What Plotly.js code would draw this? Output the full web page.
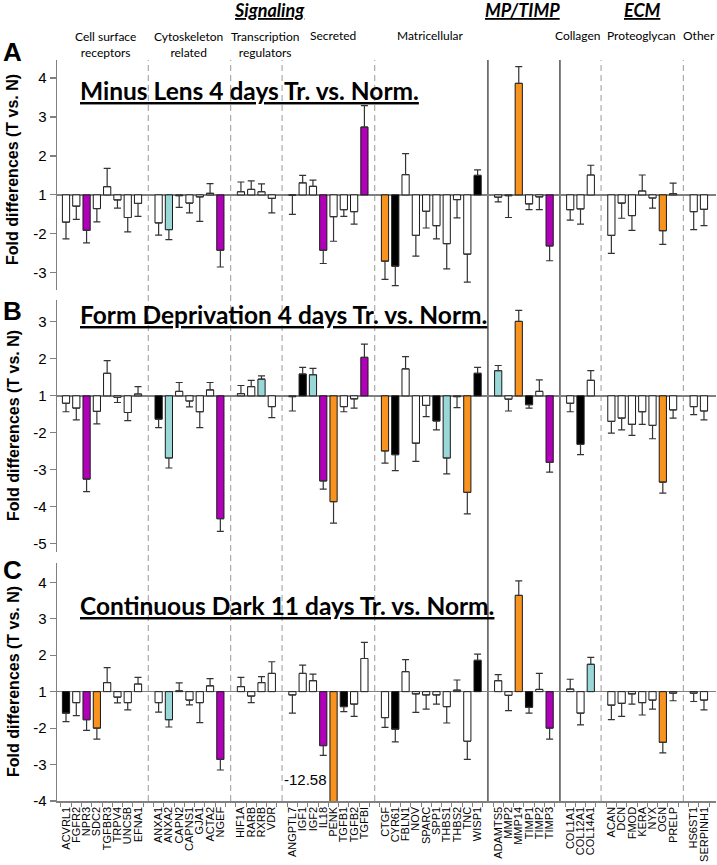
<!DOCTYPE html>
<html><head><meta charset="utf-8">
<script src="https://cdn.plot.ly/plotly-3.0.1.min.js"></script>
<style>html,body{margin:0;padding:0;background:#fff}#chart{width:717px;height:865px}</style>
</head><body><div id="chart"></div>
<script>
// ---------- data ----------
const genes = ['ACVRL1','FGFR2','NPR3','SDC2','TGFBR3','TRPV4','UNC5B','EFNA1',
 'ANXA1','ANXA2','CAPN2','CAPNS1','GJA1','ACTA2','NGEF',
 'HIF1A','RARB','RXRB','VDR',
 'ANGPTL7','IGF1','IGF2','IL18','PENK','TGFB1','TGFB2','TGFBI',
 'CTGF','CYR61','FBLN1','NOV','SPARC','SPP1','THBS1','THBS2','TNC','WISP1',
 'ADAMTS5','MMP2','MMP14','TIMP1','TIMP2','TIMP3',
 'COL1A1','COL12A1','COL14A1',
 'ACAN','DCN','FMOD','KERA','NYX','OGN','PRELP',
 'HS6ST1','SERPINH1'];
const groupSizes = [8,7,4,8,10,6,3,7,2];
const sepStyles = ['dash','dash','dash','dash','solid','solid','dash','dash'];

// Panel A: Minus Lens 4 days (fold differences, SE)
const foldA = [-1.70,-1.29,-1.91,-1.35,1.21,-1.13,-1.58,-1.22,
 -1.72,-1.89,-1.02,-1.21,-1.05,1.04,-2.42,
 1.08,1.14,1.08,-1.09,
 -1.01,1.31,1.22,-2.42,-1.56,-1.38,-1.43,2.74,
 -2.70,-2.83,1.52,-2.04,-1.42,-1.79,-2.25,-1.12,-2.52,1.50,
 -1.06,-1.02,3.86,-1.23,-1.05,-2.31,
 -1.38,-1.36,1.51,
 -2.04,-1.21,-1.53,1.10,-1.08,-1.92,1.03,
 -1.43,-1.37];
const errA = [0.43,0.34,0.32,0.34,0.47,0.21,0.37,0.33,
 0.31,0.26,0.30,0.25,0.63,0.25,0.43,
 0.25,0.22,0.20,0.37,
 0.49,0.19,0.16,0.34,0.63,0.17,0.32,0.55,
 0.47,0.50,0.54,0.53,0.43,0.34,0.65,0.47,0.72,0.14,
 0.12,0.56,0.43,0.15,0.33,0.38,
 0.27,0.39,0.25,
 0.46,0.39,0.38,0.41,0.26,0.35,0.27,
 0.46,0.42];
const colA = 'wwmwwwww'+'wcwwwwm'+'wwww'+'wwwmwwwm'+'okwwwwwwwk'+'wwowwm'+'www'+'wwwwwow'+'ww';

// Panel B: Form Deprivation 4 days
const foldB = [-1.20,-1.33,-3.25,-1.42,1.61,-1.04,-1.45,1.05,
 -1.63,-2.68,1.12,-1.14,-1.43,1.16,-4.32,
 1.06,1.25,1.45,-1.29,
 -1.02,1.59,1.57,-3.30,-3.86,-1.29,-1.08,2.04,
 -2.49,-2.59,1.73,-2.28,-1.26,-1.68,-2.68,-1.02,-3.61,1.61,
 1.68,-1.09,3.01,-1.24,1.12,-2.80,
 -1.20,-2.31,1.42,
 -1.69,-1.60,-1.77,-1.43,-1.80,-3.33,-1.38,
 -1.29,-1.41];
const errB = [0.23,0.32,0.34,0.34,0.34,0.14,0.22,0.20,
 0.23,0.27,0.24,0.16,0.43,0.20,0.34,
 0.22,0.17,0.09,0.30,
 0.39,0.18,0.17,0.22,0.58,0.14,0.25,0.36,
 0.33,0.43,0.33,0.49,0.30,0.24,0.43,0.30,0.58,0.16,
 0.14,0.32,0.30,0.09,0.31,0.26,
 0.23,0.28,0.26,
 0.32,0.32,0.30,0.34,0.36,0.30,0.22,
 0.22,0.24];
const colB = 'wwmwwwww'+'kcwwwwm'+'wwcw'+'wkcmowwm'+'okwwwkcwok'+'cwokwm'+'wkw'+'wwwwwow'+'ww';

// Panel C: Continuous Dark 11 days
const foldC = [-1.59,-1.30,-1.77,-2.00,1.25,-1.15,-1.30,1.21,
 -1.30,-1.77,1.02,-1.23,-1.30,1.16,-2.86,
 1.14,-1.12,1.25,1.50,
 -1.09,1.50,1.30,-2.48,-12.58,-1.41,-1.34,1.91,
 -1.71,-2.03,1.55,-1.06,-1.09,-1.09,-1.41,1.04,-2.36,1.86,
 1.30,-1.10,3.64,-1.43,1.06,-2.00,
 1.07,-1.59,1.75,
 -1.37,-1.32,-1.06,-1.30,-1.23,-2.39,-1.04,
 -1.04,-1.23];
const errC = [0.23,0.36,0.29,0.30,0.41,0.16,0.20,0.18,
 0.26,0.20,0.22,0.13,0.55,0.20,0.29,
 0.25,0.18,0.16,0.32,
 0.50,0.23,0.18,0.27,0.00,0.14,0.34,0.44,
 0.27,0.35,0.33,0.51,0.39,0.25,0.45,0.28,0.50,0.17,
 0.17,0.42,0.40,0.16,0.44,0.30,
 0.27,0.32,0.19,
 0.40,0.36,0.28,0.34,0.25,0.29,0.21,
 0.23,0.27];
const colC = 'kwmowwww'+'wcwwwwm'+'wwww'+'wwwmokww'+'wkwwwwwwwk'+'wwokwm'+'wwc'+'wwwwwow'+'ww';

const panelTitles = ['Minus Lens 4 days Tr. vs. Norm.','Form Deprivation 4 days Tr. vs. Norm.','Continuous Dark 11 days Tr. vs. Norm.'];
const panelLetters = ['A','B','C'];
const yTicksA = [-3,-2,1,2,3,4];
const yTicksB = [-5,-4,-3,-2,1,2,3];
const yTicksC = [-4,-3,-2,1,2,3,4];
const penkLabel = '-12.58';

// ---------- helpers ----------
const palette = {w:'#ffffff', m:'#b000b8', c:'#9ad8d8', o:'#f7931e', k:'#000000'};
const toPlot = f => f >= 0 ? f - 1 : f + 1;      // fold difference -> bar position (1 and -1 share baseline)
const slots = []; const sepSlots = [];
(function(){ let s = 0; groupSizes.forEach((n,g)=>{ for(let i=0;i<n;i++) slots.push(s++); if(g<groupSizes.length-1){ sepSlots.push(s); s++; } }); })();
const nSlots = slots[slots.length-1] + 1;

const L = 57, R = 1, T = 60, B = 64, W = 717, H = 865;
const PW = W - L - R, PH = H - T - B;
const px = x => (x - L) / PW;
const py = y => (H - B - y) / PH;

function barTrace(fold, err, col, yaxis){
  const v = fold.map(toPlot);
  return {
    type:'bar', x: slots, y: v, yaxis: yaxis, xaxis:'x',
    marker:{color: col.split('').map(c=>palette[c]), line:{color:'#1a1a1a', width:1}},
    error_y:{type:'data', symmetric:false,
      array: v.map((val,i)=> val >= 0 ? err[i] : 0),
      arrayminus: v.map((val,i)=> val < 0 ? err[i] : 0),
      color:'#333333', thickness:1.2, width:3.5},
    hoverinfo:'skip', showlegend:false
  };
}

const traces = [
  barTrace(foldA, errA, colA, 'y'),
  barTrace(foldB, errB, colB, 'y2'),
  barTrace(foldC, errC, colC, 'y3'),
  {type:'scatter', x:[], y:[], xaxis:'x2', yaxis:'y3', showlegend:false, hoverinfo:'skip'}
];

const xRange = [-0.875, -0.875 + PW/10.29];
function yAxis(domain, range, ticks){
  return {domain: domain, range: range, tickvals: ticks.map(toPlot), ticktext: ticks.map(String),
    showline:true, linecolor:'#808080', linewidth:1.5, ticks:'outside', ticklen:6, tickcolor:'#808080', tickwidth:1.2,
    showgrid:false, zeroline:true, zerolinecolor:'#808080', zerolinewidth:1.5,
    tickfont:{family:'Liberation Sans, Arial', size:15, color:'#000'}, fixedrange:true};
}

const yA = [py(290), 1], yB = [py(552), py(300)], yC = [0, py(563)];
const layout = {
  width: W, height: H, margin:{l:L, r:R, t:T, b:B}, paper_bgcolor:'#fff', plot_bgcolor:'rgba(0,0,0,0)',
  bargap: 0.3, showlegend:false,
  xaxis:{anchor:'y3', range:xRange, tickvals: slots, ticktext: genes, tickangle:-90, ticks:'',
    showline:true, linecolor:'#808080', linewidth:1.5, showgrid:false, zeroline:false,
    tickfont:{family:'Liberation Sans, Arial', size:11, color:'#000'}, fixedrange:true},
  xaxis2:{overlaying:'x', anchor:'y3', range:xRange,
    tickvals: Array.from({length:nSlots+1},(_,i)=>i-0.5), showticklabels:false,
    ticks:'outside', ticklen:5, tickcolor:'#808080', tickwidth:1, showgrid:false, zeroline:false, showline:false},
  yaxis: yAxis(yA, [-2.44, 3.46], yTicksA),
  yaxis2: yAxis(yB, [-4.22, 2.59], yTicksB),
  yaxis3: yAxis(yC, [-3, 3.53], yTicksC),
  shapes: sepSlots.map((s,i)=>({type:'line', xref:'x', yref:'paper', x0:s, x1:s, y0:0, y1:1, layer:'below',
    line: sepStyles[i]==='solid' ? {color:'#6e6e6e', width:1.8} : {color:'#ababab', width:1.2, dash:'6px,4px'}})),
  annotations: []
};

const ann = layout.annotations;
const calibri = 'Lato, Carlito, Calibri, sans-serif';
// top headers
[['<b><i><u>Signaling</u></i></b>',269],['<b><i><u>MP/TIMP</u></i></b>',522],['<b><i><u>ECM</u></i></b>',642]].forEach(h=>{
  ann.push({text:h[0], x:px(h[1]), y:py(10), xref:'paper', yref:'paper', showarrow:false, xanchor:'center', yanchor:'middle',
    font:{family:calibri, size:18, color:'#000'}});
});
[['Cell surface<br>receptors',105,44],['Cytoskeleton<br>related',188,44],['Transcription<br>regulators',265,44],['Secreted',333,36],
 ['Matricellular',430,36],['Collagen',578,36],['Proteoglycan',641,36],['Other',699,36]].forEach(h=>{
  ann.push({text:h[0], x:px(h[1]), y:py(h[2]), xref:'paper', yref:'paper', showarrow:false, xanchor:'center', yanchor:'middle',
    font:{family:calibri, size:12, color:'#000'}});
});
// panel titles, letters, y titles
const titleY = [90, 314, 605], letterY = [52, 311, 570], midY = [170, 426, 682];
panelTitles.forEach((t,i)=>{
  ann.push({text:'<b><u>'+t+'</u></b>', x:px(78), y:py(titleY[i]), xref:'paper', yref:'paper', showarrow:false,
    xanchor:'left', yanchor:'middle', font:{family:calibri, size:24.5, color:'#000'}});
  ann.push({text:'<b>'+panelLetters[i]+'</b>', x:px(12), y:py(letterY[i]), xref:'paper', yref:'paper', showarrow:false,
    xanchor:'center', yanchor:'middle', font:{family:'Liberation Sans, Arial', size:26, color:'#000'}});
  ann.push({text:'<b>Fold differences (T vs. N)</b>', x:px(13), y:py(midY[i]), xref:'paper', yref:'paper', showarrow:false,
    textangle:-90, xanchor:'center', yanchor:'middle', font:{family:'Liberation Sans, Arial', size:16, color:'#000'}});
});
// off-scale label for PENK in panel C
const penkSlot = slots[genes.indexOf('PENK')];
ann.push({text:penkLabel, x:penkSlot-0.45, y:-2.41, xref:'x', yref:'y3', showarrow:false, xanchor:'right', yanchor:'middle',
  font:{family:'Liberation Sans, Arial', size:15, color:'#000'}});

Plotly.newPlot('chart', traces, layout, {staticPlot:true, displayModeBar:false});
</script></body></html>
